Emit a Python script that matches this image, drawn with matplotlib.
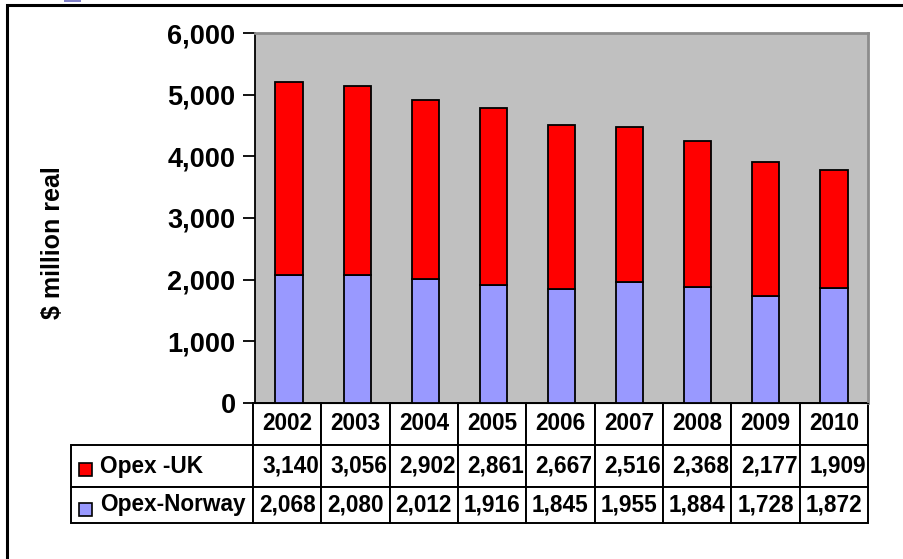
import numpy as np
import matplotlib
matplotlib.use('Agg')
import matplotlib.pyplot as plt
from matplotlib.table import Table
from matplotlib.patches import Rectangle
from matplotlib.ticker import FuncFormatter

# data
years = ['2002', '2003', '2004', '2005', '2006', '2007', '2008', '2009', '2010']
opex_uk = [3140, 3056, 2902, 2861, 2667, 2516, 2368, 2177, 1909]
opex_norway = [2068, 2080, 2012, 1916, 1845, 1955, 1884, 1728, 1872]
series_names = ['Opex -UK', 'Opex-Norway']
uk_color = '#FF0000'
norway_color = '#9999FF'

plt.rcParams['font.family'] = ['Liberation Sans', 'DejaVu Sans']
plt.rcParams['font.weight'] = 'bold'

W, H = 904, 559
fig = plt.figure(figsize=(W / 100, H / 100), dpi=100)

def px_box(x0, y0, x1, y1) :
    # pixel box (top-left origin) -> figure fraction [l, b, w, h]
    return [x0 / W, 1 - y1 / H, (x1 - x0) / W, (y1 - y0) / H]

# outer frame and the cut-off icon at the top
l, b, w, h = px_box(7, 5, W + 20, H + 20)
fig.add_artist(Rectangle((l, b), w, h, transform=fig.transFigure,
                         fill=False, edgecolor='black', linewidth=2.2))
l, b, w, h = px_box(64, -2, 81, 2)
fig.add_artist(Rectangle((l, b), w, h, transform=fig.transFigure,
                         facecolor='#7F7FC8', edgecolor='none'))

ax = fig.add_axes(px_box(255, 33, 868, 403))
ax.set_facecolor('#C0C0C0')
x = np.arange(len(years))
ax.bar(x, opex_norway, 0.4, color=norway_color, edgecolor='black', linewidth=1.3)
ax.bar(x, opex_uk, 0.4, bottom=opex_norway, color=uk_color, edgecolor='black', linewidth=1.3)
ax.set_xlim(-0.5, len(years) - 0.5)
ax.set_ylim(0, 6000)
ax.set_yticks(range(0, 6001, 1000))
ax.yaxis.set_major_formatter(FuncFormatter(lambda v, p : '{:,}'.format(int(v))))
ax.tick_params(axis='y', length=9, width=1.3, labelsize=19.5, pad=5)
ax.set_xticks([])
for lab in ax.get_yticklabels() :
    lab.set_fontweight('bold')
ax.spines['left'].set_color('black')
ax.spines['left'].set_linewidth(1.3)
ax.spines['bottom'].set_color('black')
for s in ['top', 'right'] :
    ax.spines[s].set_color('#8C8C8C')
    ax.spines[s].set_linewidth(2)

fig.text(53 / W, 1 - 243 / H, '$ million real', rotation=90, ha='center', va='center',
         fontsize=18, fontweight='bold')

# data table under the plot
ax_w, ax_h = 868 - 255, 403 - 33
tb = Table(ax, bbox=[(71 - 255) / ax_w, -(523 - 403) / ax_h, (868 - 71) / ax_w, 120 / ax_h])
lab_w, col_w = 182, (868 - 253) / len(years)
row_h = [42, 42, 36]
for j, yr in enumerate(years) :
    tb.add_cell(0, j + 1, col_w, row_h[0], text=yr, loc='center')
for i, (name, vals) in enumerate([(series_names[0], opex_uk), (series_names[1], opex_norway)]) :
    c = tb.add_cell(i + 1, 0, lab_w, row_h[i + 1], text=name, loc='left')
    c.PAD = 0.16
    for j, v in enumerate(vals) :
        c = tb.add_cell(i + 1, j + 1, col_w, row_h[i + 1], text='{:,}'.format(v),
                        loc='right' if i == 0 else 'center')
        c.PAD = 0.03
tb.auto_set_font_size(False)
tb.set_fontsize(16.3)
for cell in tb.get_celld().values() :
    cell.set_edgecolor('black')
    cell.set_linewidth(1.4)
    cell.set_facecolor('white')
    cell.set_clip_on(False)
    cell.get_text().set_fontweight('bold')
tb.set_clip_on(False)
ax.add_table(tb)

# legend keys inside the row label cells
for (y0, y1), col in zip([(463, 476), (503, 516)], [uk_color, norway_color]) :
    l, b, w, h = px_box(79, y0, 92, y1)
    fig.add_artist(Rectangle((l, b), w, h, transform=fig.transFigure,
                             facecolor=col, edgecolor='black', linewidth=1.2))

fig.savefig('out.png', dpi=100)
